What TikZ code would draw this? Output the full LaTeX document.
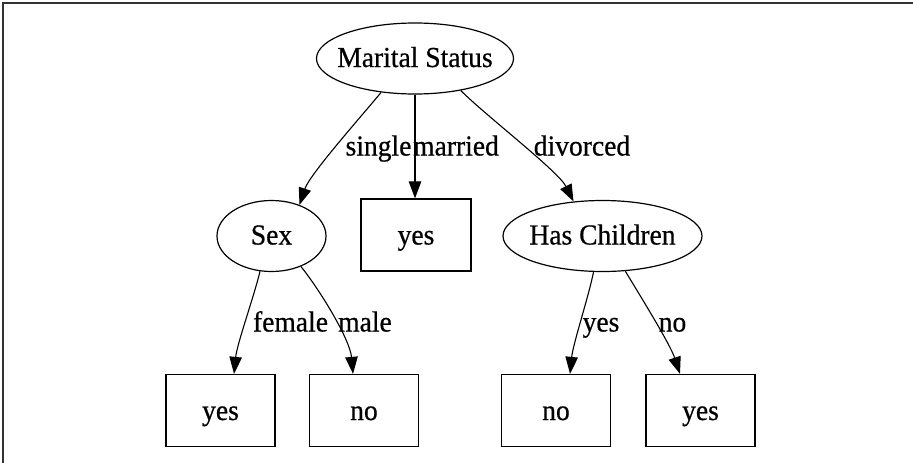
\documentclass[tikz,border=0pt]{standalone}
\usepackage{fontspec}
\setmainfont{Liberation Serif}[FakeStretch=0.95,FakeBold=0.6]
\usetikzlibrary{arrows.meta,shapes.geometric}
\begin{document}
\begin{tikzpicture}[x=1pt,y=-1pt,
  every node/.style={font=\fontsize{29}{34}\selectfont, inner sep=0pt},
  ellnode/.style={draw, ellipse, line width=1.2pt, inner xsep=-25pt, minimum height=71pt, text height=17pt, text depth=0pt},
  boxnode/.style={draw, rectangle, line width=1.3pt, minimum width=109pt, minimum height=72pt, text height=19pt, text depth=0pt},
  conn/.style={draw, line width=1.1pt, -{Triangle[length=17pt,width=12.5pt]}},
  elabel/.style={anchor=base}
]
\useasboundingbox (0,0) rectangle (913,463);
\fill[white] (0,0) rectangle (913,463);
\draw[line width=1.6pt, black!80] (2.8,463) -- (2.8,2.8) -- (913,2.8);

\node[ellnode, minimum width=197pt] (ms) at (415,58.5) {Marital Status};
\node[ellnode, minimum width=109pt] (sex) at (271.5,236) {Sex};
\node[boxnode, minimum width=110pt] (y1) at (416,235) {yes};
\node[ellnode, minimum width=199pt] (hc) at (602.5,236) {Has Children};
\node[boxnode] (b1) at (220.5,410.5) {yes};
\node[boxnode] (b2) at (364,410.5) {no};
\node[boxnode] (b3) at (556,410.5) {no};
\node[boxnode] (b4) at (700.5,410.5) {yes};

\draw[conn] (ms.225) .. controls +(-25,30) and +(10,-30) .. (sex.48);
\draw[conn] (ms.south) -- (ms.south |- y1.north);
\draw[conn] (ms.325) .. controls +(25,25) and +(-15,-30) .. (hc.130);
\draw[conn] (sex.252) .. controls +(-6,25) and +(3,-30) .. ([xshift=13.5pt]b1.north);
\draw[conn] (sex.314) .. controls +(20,25) and +(-3,-34) .. ([xshift=-11pt]b2.north);
\draw[conn] (hc.256) .. controls +(-5,25) and +(3,-30) .. ([xshift=14pt]b3.north);
\draw[conn] (hc.303) .. controls +(15,25) and +(-10,-30) .. ([xshift=-20.5pt]b4.north);

\node[elabel] (lsingle) at (378.5,155.5) {single};
\node[elabel] (lmarried) at (456,155.5) {married};
\node[elabel] (ldiv) at (582,155.5) {divorced};
\node[elabel] (lfem) at (290.5,331.5) {female};
\node[elabel] (lmale) at (365,331.5) {male};
\node[elabel] (lyes) at (601,331.5) {yes};
\node[elabel] (lno) at (672.5,331.5) {no};
\end{tikzpicture}
\end{document}
